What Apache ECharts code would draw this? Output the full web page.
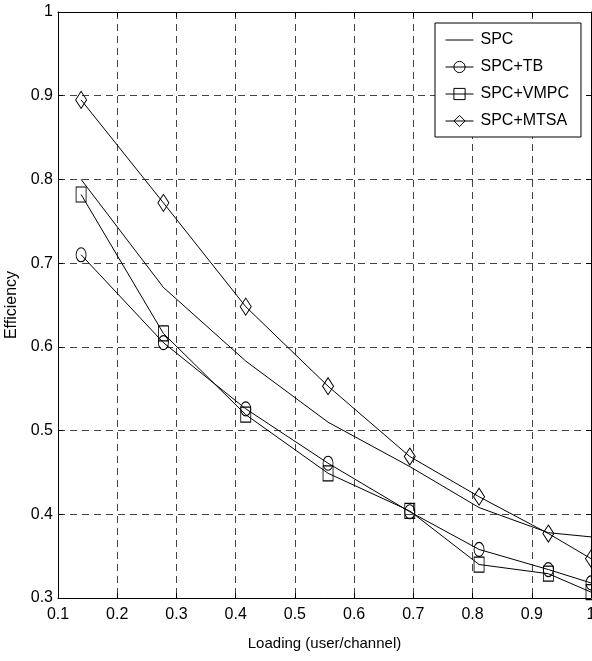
<!DOCTYPE html>
<html>
<head>
<meta charset="utf-8">
<script src="https://cdn.jsdelivr.net/npm/echarts@6/dist/echarts.min.js"></script>
<style>
  html, body { margin: 0; padding: 0; background: #fff; }
  #chart { width: 592px; height: 661px; }
</style>
</head>
<body>
<div id="chart"></div>
<script>
// loading values (x)
var loading = [0.139, 0.278, 0.417, 0.556, 0.694, 0.811, 0.928, 1.0];
// efficiency per scheme
var spc  = [0.800, 0.671, 0.583, 0.510, 0.457, 0.408, 0.378, 0.373];
var tb   = [0.710, 0.605, 0.526, 0.461, 0.403, 0.358, 0.334, 0.318];
var vmpc = [0.782, 0.616, 0.519, 0.449, 0.404, 0.340, 0.329, 0.307];
var mtsa = [0.895, 0.772, 0.648, 0.553, 0.469, 0.421, 0.377, 0.347];
var seriesNames = ['SPC', 'SPC+TB', 'SPC+VMPC', 'SPC+MTSA'];

var font = 'Liberation Sans, Arial, sans-serif';

function pairs(ys) {
    var out = [];
    for (var i = 0; i < loading.length; i++) {
        out.push([loading[i], ys[i]]);
    }
    return out;
}

function tickFmt(v) {
    return Math.abs(v - 1) < 1e-9 ? '1' : v.toFixed(1);
}

var gridLine = { show: true, lineStyle: { color: '#444', type: [7, 5], width: 1 } };
var axisLine = { show: true, onZero: false, lineStyle: { color: '#000', width: 1 } };
var tick = { show: true, inside: true, length: 5, lineStyle: { color: '#000' } };

function makeLine(name, ys, symbol, size) {
    return {
        name: name,
        type: 'line',
        data: pairs(ys),
        symbol: symbol,
        symbolSize: size,
        showSymbol: symbol !== 'none',
        clip: false,
        lineStyle: { color: '#000', width: 1 },
        itemStyle: { color: 'transparent', borderColor: '#000', borderWidth: 1 },
        emphasis: { disabled: true },
        animation: false
    };
}

// legend entries; the plain SPC line has no marker
var legendData = [
    { name: seriesNames[0], itemStyle: { color: 'transparent', borderColor: 'transparent', borderWidth: 0 } },
    { name: seriesNames[1] },
    { name: seriesNames[2] },
    { name: seriesNames[3] }
];

var myChart = echarts.init(document.getElementById('chart'));
var option = {
    backgroundColor: '#fff',
    animation: false,
    grid: { left: 58, right: 1, top: 12, bottom: 63, outerBoundsMode: 'none', containLabel: false },
    legend: {
        orient: 'vertical',
        left: 435,
        top: 23,
        data: legendData,
        backgroundColor: '#fff',
        borderColor: '#000',
        borderWidth: 1,
        borderRadius: 0,
        padding: [9, 12, 8, 10],
        itemWidth: 28,
        itemHeight: 14,
        itemGap: 11,
        lineStyle: { width: 1, color: '#000' },
        itemStyle: { borderWidth: 1, borderColor: '#000', color: 'transparent' },
        textStyle: { color: '#000', fontSize: 16, lineHeight: 14, fontFamily: font, padding: [0, 0, 0, 2] },
        selectedMode: false
    },
    xAxis: [{
        type: 'value',
        min: 0.1,
        max: 1,
        interval: 0.1,
        name: 'Loading (user/channel)',
        nameLocation: 'middle',
        nameGap: 38,
        nameTextStyle: { color: '#000', fontSize: 15, fontFamily: font },
        axisLine: axisLine,
        axisTick: tick,
        splitLine: gridLine,
        axisLabel: { color: '#000', fontSize: 16, fontFamily: font, margin: 9, formatter: tickFmt }
    }, {
        type: 'value',
        position: 'top',
        min: 0.1,
        max: 1,
        interval: 0.1,
        axisLine: axisLine,
        axisTick: tick,
        splitLine: { show: false },
        axisLabel: { show: false }
    }],
    yAxis: [{
        type: 'value',
        min: 0.3,
        max: 1,
        interval: 0.1,
        name: 'Efficiency',
        nameLocation: 'middle',
        nameGap: 36,
        nameTextStyle: { color: '#000', fontSize: 16, fontFamily: font },
        axisLine: axisLine,
        axisTick: tick,
        splitLine: gridLine,
        axisLabel: { color: '#000', fontSize: 16, fontFamily: font, margin: 5, formatter: tickFmt }
    }, {
        type: 'value',
        position: 'right',
        min: 0.3,
        max: 1,
        interval: 0.1,
        axisLine: axisLine,
        axisTick: tick,
        splitLine: { show: false },
        axisLabel: { show: false }
    }],
    series: [
        makeLine(seriesNames[0], spc, 'none', 0),
        makeLine(seriesNames[1], tb, 'circle', [10, 14]),
        makeLine(seriesNames[2], vmpc, 'rect', [10, 15]),
        makeLine(seriesNames[3], mtsa, 'diamond', [11, 17])
    ]
};
myChart.setOption(option);
window.onresize = myChart.resize;
</script>
</body>
</html>
